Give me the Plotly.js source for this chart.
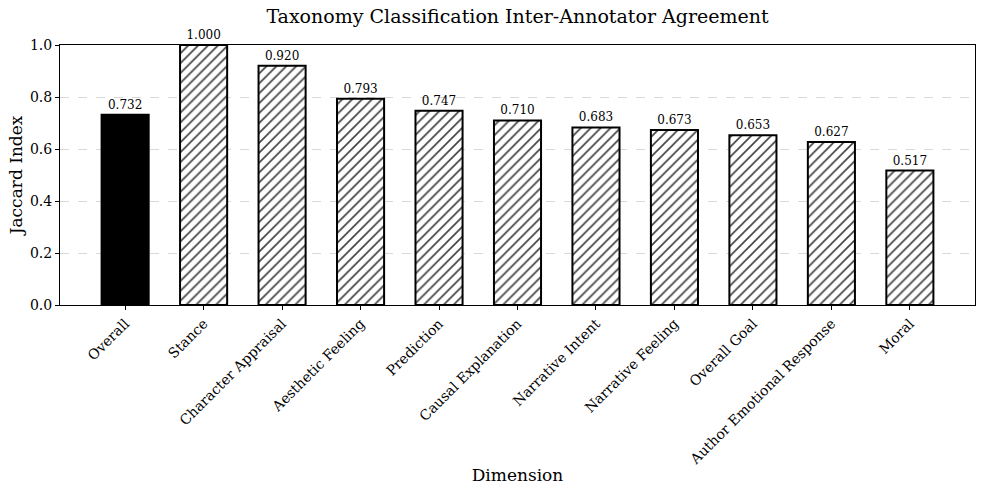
<!DOCTYPE html>
<html><head><meta charset="utf-8">
<script src="https://cdn.plot.ly/plotly-3.0.1.min.js"></script>
<style>body{margin:0;padding:0;background:#fff}#c{width:997px;height:492px}</style>
</head><body><div id="c"></div>
<script>
const categories = ["Overall","Stance","Character Appraisal","Aesthetic Feeling","Prediction","Causal Explanation","Narrative Intent","Narrative Feeling","Overall Goal","Author Emotional Response","Moral"];
const values = [0.732,1.000,0.920,0.793,0.747,0.710,0.683,0.673,0.653,0.627,0.517];
const labels = values.map(v => v.toFixed(3));
const font = "DejaVu Serif, serif";

const fills = categories.map((c,i) => i === 0 ? "#000000" : "#ffffff");
const shapes = categories.map((c,i) => i === 0 ? "" : "/");

const trace = {
  type: "bar",
  x: categories.map((c,i)=>i),
  y: values,
  width: 0.6,
  text: labels,
  textposition: "outside",
  cliponaxis: false,
  textfont: {family: font, size: 12, color: "#000"},
  marker: {
    color: fills,
    line: {color: "#000", width: 2},
    pattern: {shape: shapes, fgcolor: "#000000", fgopacity: 1, size: 7, solidity: 0.24, fillmode: "overlay"}
  },
  hoverinfo: "skip"
};

const layout = {
  width: 997, height: 492,
  margin: {l: 60, r: 22, t: 45, b: 187},
  paper_bgcolor: "#fff", plot_bgcolor: "#fff",
  font: {family: font, color: "#000"},
  title: {text: "Taxonomy Classification Inter-Annotator Agreement", font: {family: font, size: 19, color: "#000"}, xref: "paper", x: 0.5, xanchor: "center", y: 0.967, yanchor: "middle"},
  showlegend: false,
  bargap: 0.4,
  xaxis: {
    range: [-0.83, 10.83],
    tickmode: "array", tickvals: categories.map((c,i)=>i), ticktext: categories,
    tickangle: -45, tickfont: {family: font, size: 14, color: "#000"},
    ticks: "outside", ticklen: 4, tickcolor: "#000",
    showgrid: false, zeroline: false,
    showline: true, linecolor: "#000", linewidth: 1, mirror: true,
    title: {text: "Dimension", font: {family: font, size: 17, color: "#000"}, standoff: 2},
    automargin: false
  },
  yaxis: {
    range: [0, 1.0],
    tickmode: "array", tickvals: [0,0.2,0.4,0.6,0.8,1.0], ticktext: ["0.0","0.2","0.4","0.6","0.8","1.0"],
    tickfont: {family: font, size: 14, color: "#000"},
    ticks: "outside", ticklen: 4, tickcolor: "#000",
    showgrid: true, gridcolor: "#d9d9d9", griddash: "dash", gridwidth: 1,
    zeroline: false,
    showline: true, linecolor: "#000", linewidth: 1, mirror: true,
    title: {text: "Jaccard Index", font: {family: font, size: 17, color: "#000"}, standoff: 2},
    automargin: false
  }
};

Plotly.newPlot("c", [trace], layout, {displayModeBar: false});
</script></body></html>
